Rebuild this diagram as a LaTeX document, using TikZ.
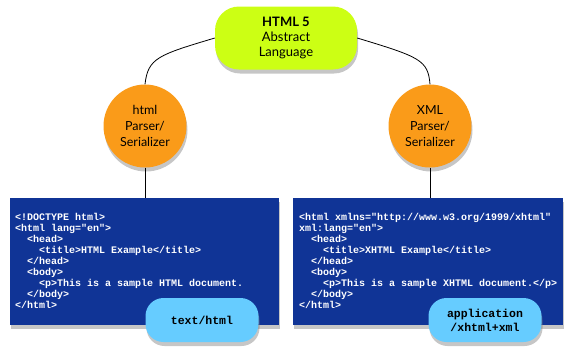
\documentclass[tikz,border=0pt]{standalone}
\usepackage{fontspec}
\setsansfont{Lato}
\setmonofont{Liberation Mono}
\definecolor{limegreen}{RGB}{204,255,20}
\definecolor{parserorange}{RGB}{250,155,25}
\definecolor{docblue}{RGB}{16,52,150}
\definecolor{mimeblue}{RGB}{102,204,255}
\usetikzlibrary{shadows}

\begin{document}
\begin{tikzpicture}[x=1pt,y=-1pt,font=\sffamily,
        softshadow/.style={drop shadow={shadow xshift=1pt,shadow yshift=-4pt,opacity=.45}},
        lang/.style={rectangle,rounded corners=24pt,fill=limegreen,
                     minimum width=142pt,minimum height=63pt,align=center,
                     font=\fontsize{13}{15}\selectfont\sffamily,softshadow},
        parser/.style={circle,fill=parserorange,minimum size=83pt,inner sep=0pt,
                       align=center,font=\fontsize{12.5}{16}\selectfont\sffamily,softshadow},
        docbox/.style={rectangle,fill=docblue,minimum height=127pt,softshadow},
        code/.style={anchor=north west,align=left,text=white,inner sep=0pt,
                     font=\fontsize{10}{11}\selectfont\ttfamily\bfseries},
        mime/.style={rectangle,rounded corners=18pt,fill=mimeblue,
                     minimum width=113pt,minimum height=44pt,align=center,
                     font=\fontsize{11.5}{14}\selectfont\ttfamily\bfseries,softshadow},
        link/.style={draw=black,line width=0.8pt}]
  \useasboundingbox (0,0) rectangle (573,357);
  % abstract language and the two parsers
  \node[lang] (abstract) at (286,38) {{\bfseries HTML 5}\\Abstract\\Language};
  \node[parser] (htmlparser) at (145,126) {html\\Parser/\\Serializer};
  \node[parser] (xmlparser) at (430,126) {XML\\Parser/\\Serializer};
  % documents
  \node[docbox,minimum width=269pt] (htmlbox) at (144.5,261.5) {};
  \node[docbox,minimum width=270pt] (xmlbox) at (428,261.5) {};
  \node[code] (htmlcode) at (15,213) {<!DOCTYPE html>\\
<html lang="en">\\
~~<head>\\
~~~~<title>HTML Example</title>\\
~~</head>\\
~~<body>\\
~~~~<p>This is a sample HTML document.\\
~~</body>\\
</html>};
  \node[code] (xmlcode) at (299,213) {<html xmlns="http://www.w3.org/1999/xhtml"\\
xml:lang="en">\\
~~<head>\\
~~~~<title>XHTML Example</title>\\
~~</head>\\
~~<body>\\
~~~~<p>This is a sample XHTML document.</p>\\
~~</body>\\
</html>};
  \node[mime] (htmlmime) at (202,320) {text/html};
  \node[mime] (xmlmime) at (485,320) {application\\/xhtml+xml};
  % connectors
  \draw[link] (abstract.west) .. controls (158,55) and (148,58) .. (htmlparser.north);
  \draw[link] (abstract.east) .. controls (420,57) and (428,60) .. (xmlparser.north);
  \draw[link] (htmlparser.south) -- (htmlparser.south |- htmlbox.north);
  \draw[link] (xmlparser.south) -- (xmlparser.south |- xmlbox.north);
\end{tikzpicture}
\end{document}
